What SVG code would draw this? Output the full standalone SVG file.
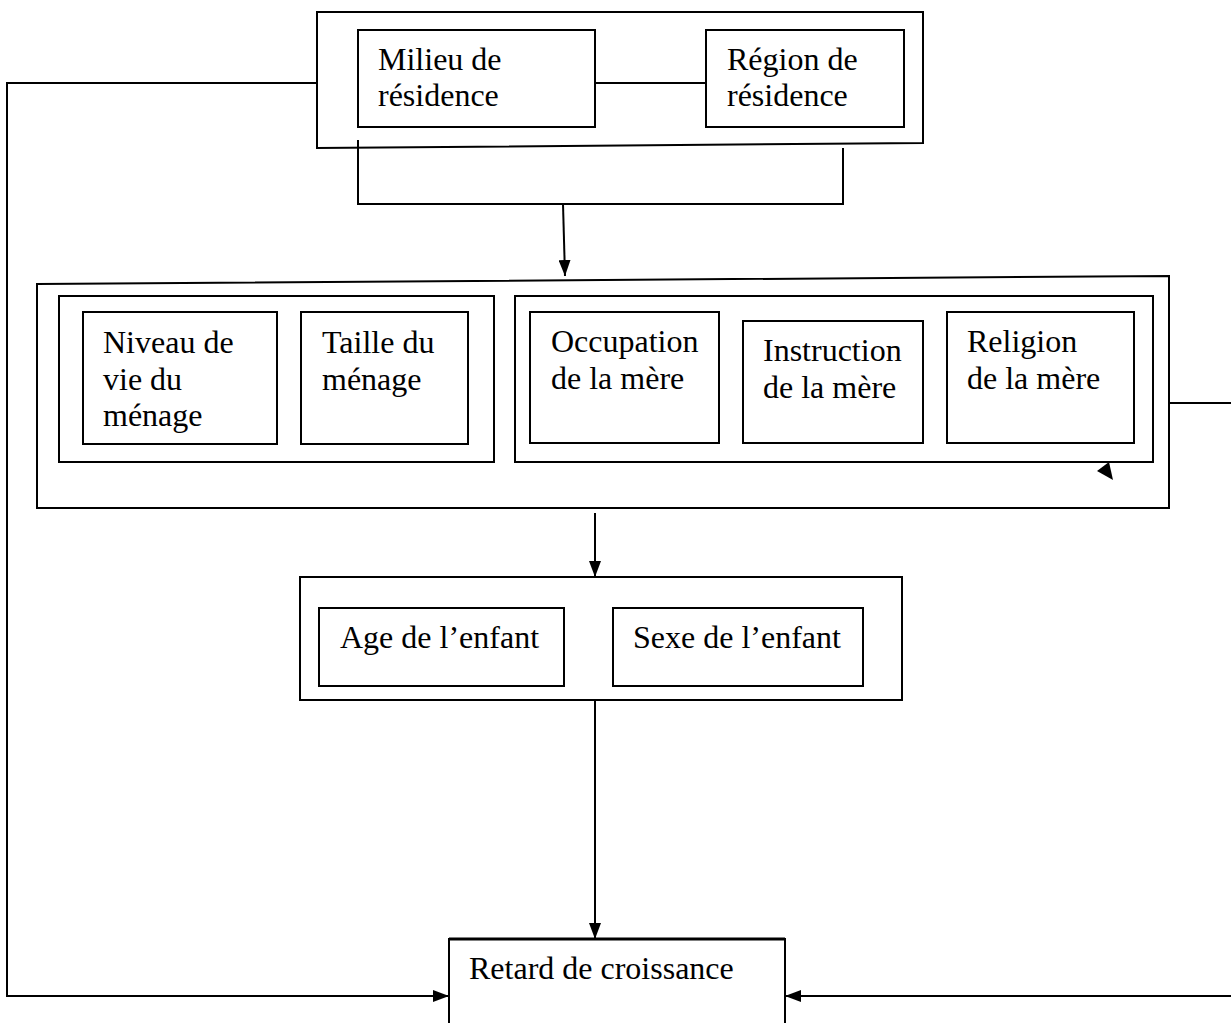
<svg xmlns="http://www.w3.org/2000/svg" width="1231" height="1023" viewBox="0 0 1231 1023">
<style>
.box{fill:none;stroke:#000;stroke-width:2}
.ln{fill:none;stroke:#000;stroke-width:2}
.t{font-family:"Liberation Serif","Times New Roman",serif;font-size:32px;fill:#000}
</style>
<defs>
<marker id="ah" viewBox="0 0 16 12" refX="16" refY="6" markerWidth="16" markerHeight="12" markerUnits="userSpaceOnUse" orient="auto">
<path d="M0,0 L16,6 L0,12 Z" fill="#000"/>
</marker>
</defs>
<rect width="1231" height="1023" fill="#fff"/>
<g id="connectors">
<line class="ln" x1="595" y1="83" x2="706" y2="83"/>
<polyline class="ln" points="317,83 7,83 7,996 449,996" marker-end="url(#ah)"/>
<polyline class="ln" points="358,140 358,204 843,204 843,148"/>
<line class="ln" x1="563" y1="204" x2="565" y2="276" marker-end="url(#ah)"/>
<line class="ln" x1="595" y1="513" x2="595" y2="577" marker-end="url(#ah)"/>
<line class="ln" x1="595" y1="700" x2="595" y2="939" marker-end="url(#ah)"/>
<line class="ln" x1="1169" y1="403" x2="1231" y2="403"/>
<line class="ln" x1="1231" y1="996" x2="785" y2="996" marker-end="url(#ah)"/>
<polygon points="1097,471 1109,462 1113,480" fill="#000"/>
</g>
<g id="groupe-residence">
<polygon class="box" points="317,12 923,12 923,143 317,148"/>
</g>
<g id="milieu">
<rect class="box" x="358" y="30" width="237" height="97"/>
<text class="t" x="378" y="70">Milieu de</text>
<text class="t" x="378" y="106">résidence</text>
</g>
<g id="region">
<rect class="box" x="706" y="30" width="198" height="97"/>
<text class="t" x="727" y="70">Région de</text>
<text class="t" x="727" y="106">résidence</text>
</g>
<g id="groupe-socio">
<polygon class="box" points="37,284 1169,276 1169,508 37,508"/>
</g>
<g id="groupe-menage">
<rect class="box" x="59" y="296" width="435" height="166"/>
</g>
<g id="niveau">
<rect class="box" x="83" y="312" width="194" height="132"/>
<text class="t" x="103" y="353">Niveau de</text>
<text class="t" x="103" y="390">vie du</text>
<text class="t" x="103" y="426">ménage</text>
</g>
<g id="taille">
<rect class="box" x="301" y="312" width="167" height="132"/>
<text class="t" x="322" y="353">Taille du</text>
<text class="t" x="322" y="390">ménage</text>
</g>
<g id="groupe-mere">
<rect class="box" x="515" y="296" width="638" height="166"/>
</g>
<g id="occupation">
<rect class="box" x="530" y="312" width="189" height="131"/>
<text class="t" x="551" y="352">Occupation</text>
<text class="t" x="551" y="389">de la mère</text>
</g>
<g id="instruction">
<rect class="box" x="743" y="321" width="180" height="122"/>
<text class="t" x="763" y="361">Instruction</text>
<text class="t" x="763" y="398">de la mère</text>
</g>
<g id="religion">
<rect class="box" x="947" y="312" width="187" height="131"/>
<text class="t" x="967" y="352">Religion</text>
<text class="t" x="967" y="389">de la mère</text>
</g>
<g id="groupe-enfant">
<rect class="box" x="300" y="577" width="602" height="123"/>
</g>
<g id="age">
<rect class="box" x="319" y="608" width="245" height="78"/>
<text class="t" x="340" y="648">Age de l’enfant</text>
</g>
<g id="sexe">
<rect class="box" x="613" y="608" width="250" height="78"/>
<text class="t" x="633" y="648">Sexe de l’enfant</text>
</g>
<g id="retard">
<polyline class="box" points="449,1030 449,939 785,939 785,1030"/>
<line x1="449" y1="939" x2="785" y2="939" stroke="#000" stroke-width="3"/>
<text class="t" x="469" y="979">Retard de croissance</text>
</g>
</svg>
